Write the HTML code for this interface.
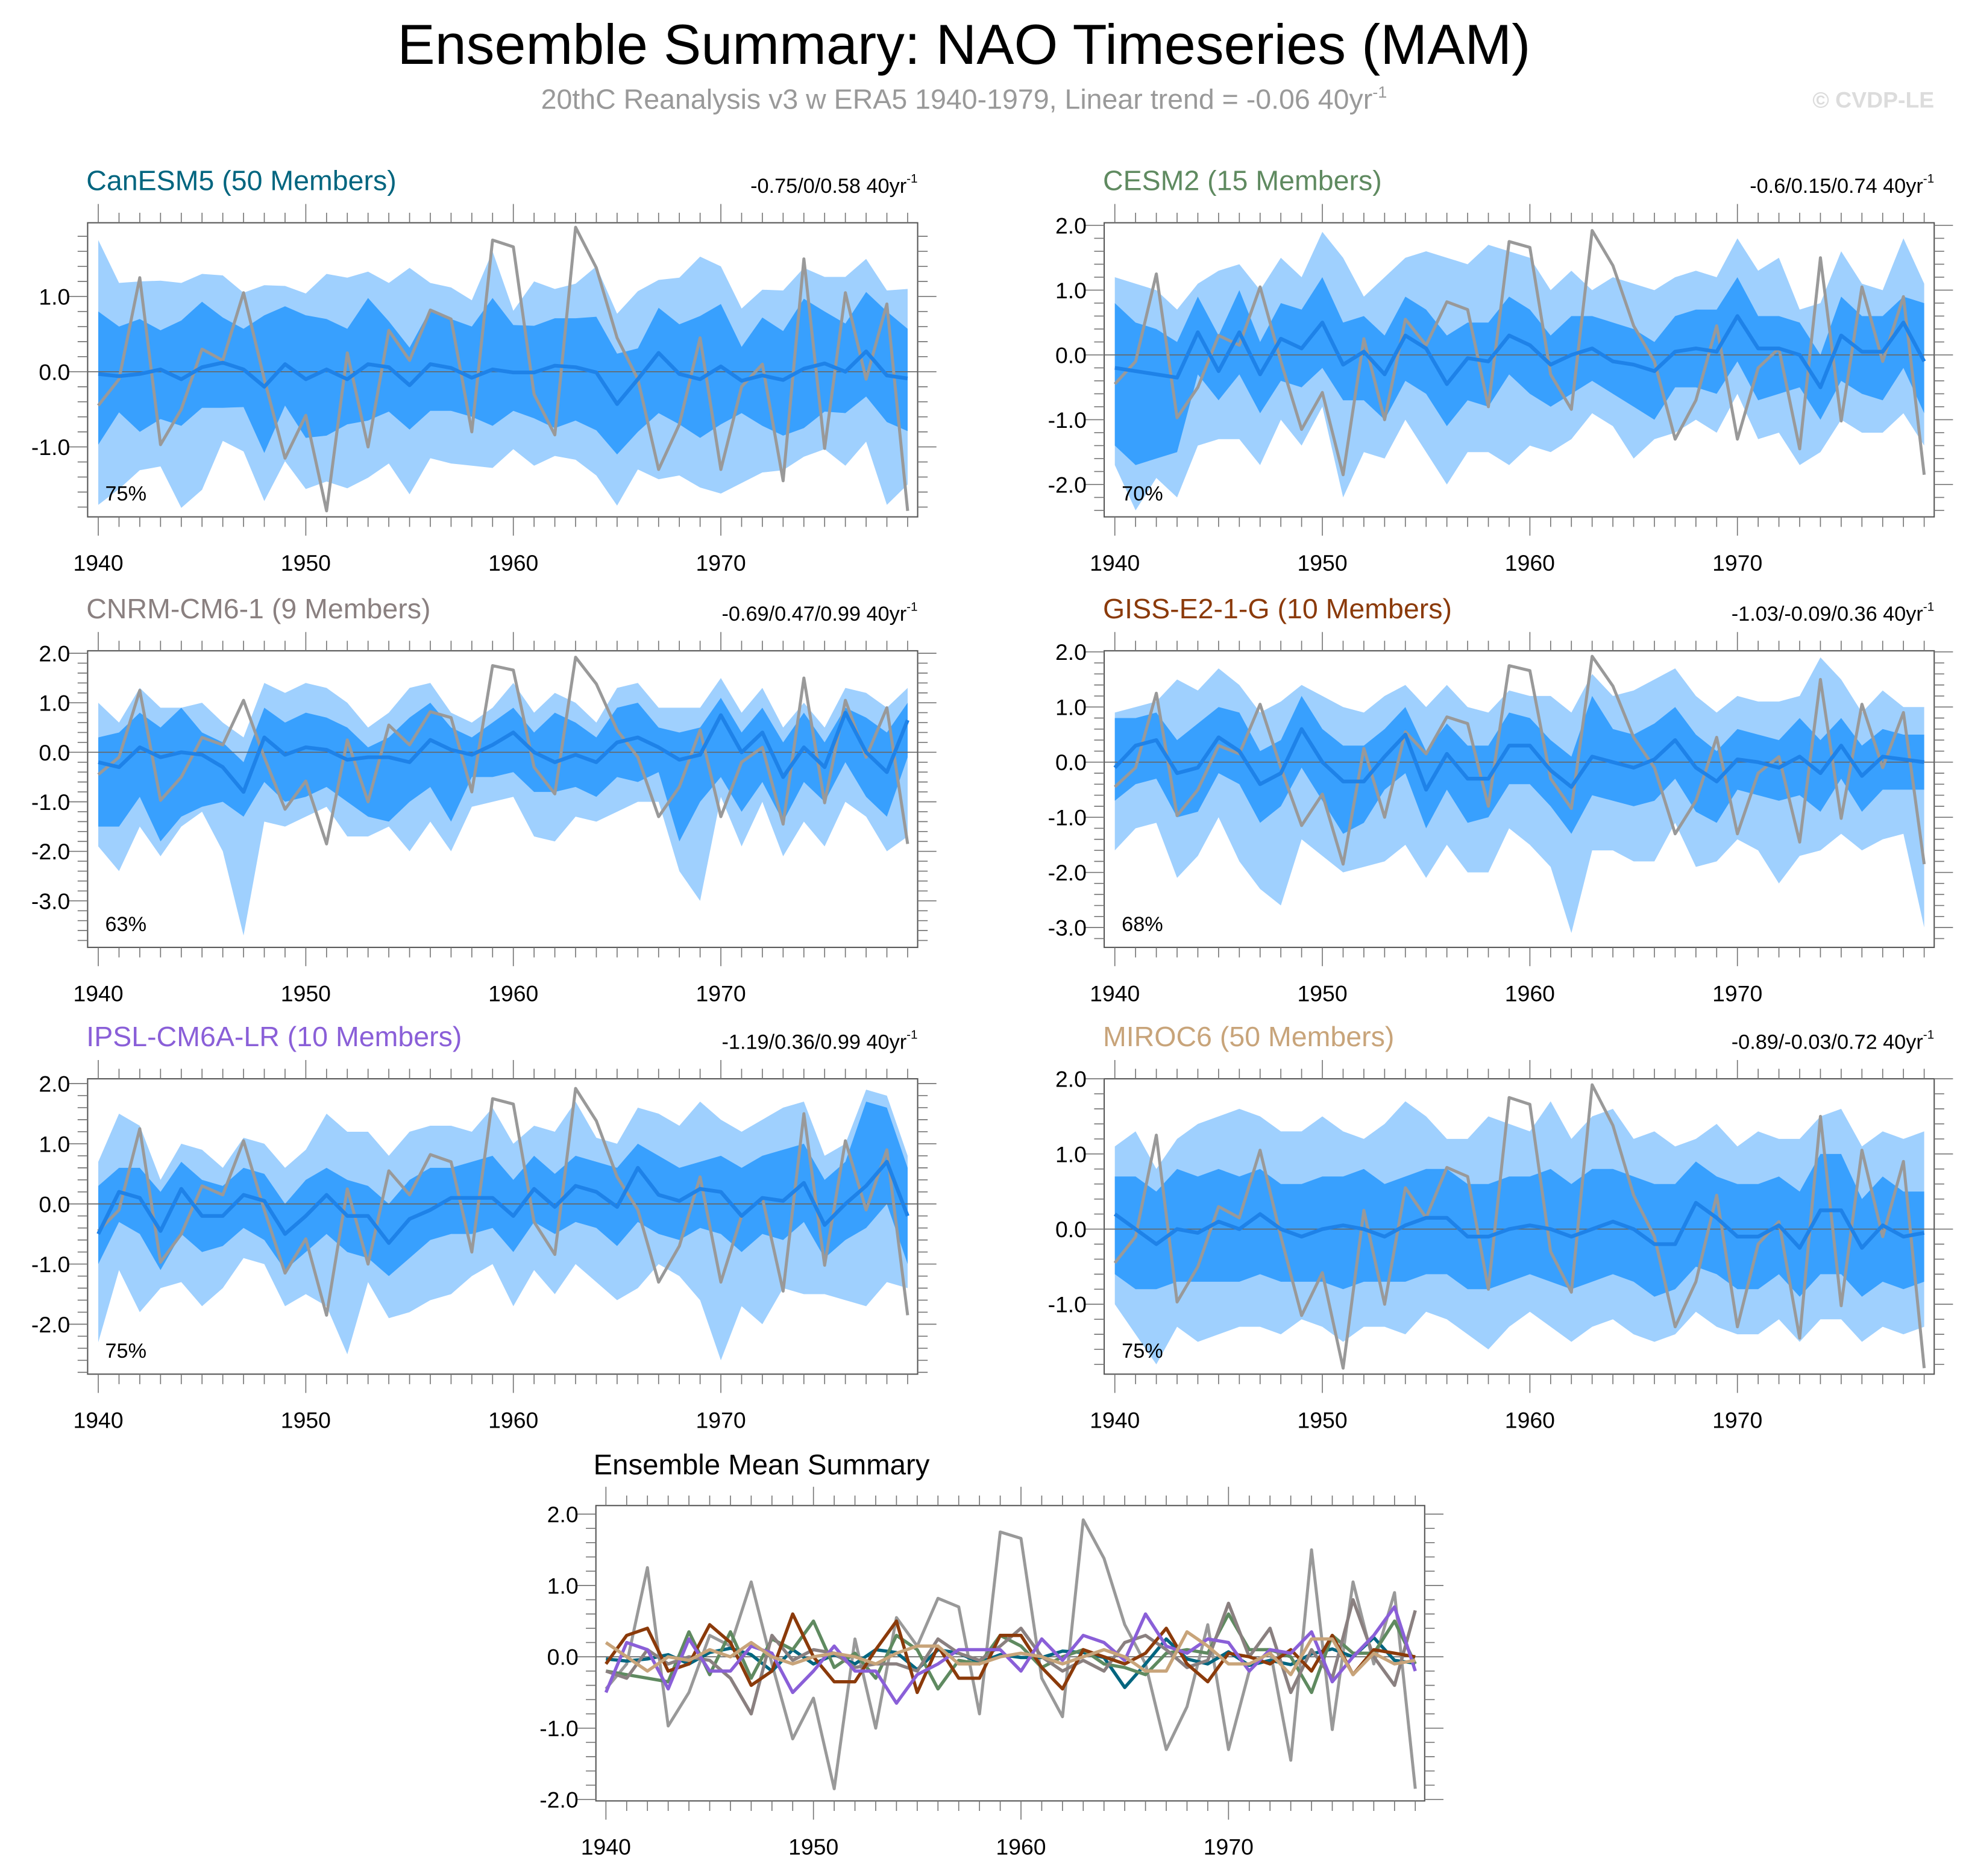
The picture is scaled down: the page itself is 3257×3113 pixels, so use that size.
<!DOCTYPE html>
<html><head><meta charset="utf-8"><title>Ensemble Summary: NAO Timeseries (MAM)</title>
<style>html,body{margin:0;padding:0;background:#fff;width:3257px;height:3113px;overflow:hidden}
svg{display:block;font-family:"Liberation Sans",sans-serif}</style></head>
<body>
<svg id="fig" width="3257" height="3113" viewBox="0 0 1568 1499" preserveAspectRatio="none" xmlns="http://www.w3.org/2000/svg">
<text x="770" y="51" font-size="45" text-anchor="middle" fill="#000">Ensemble Summary: NAO Timeseries (MAM)</text>
<text x="770" y="87" font-size="22.4" text-anchor="middle" fill="#999">20thC Reanalysis v3 w ERA5 1940-1979, Linear trend = -0.06 40yr<tspan dy="-9" font-size="13">-1</tspan></text>
<text x="1545" y="86" font-size="18" font-weight="bold" text-anchor="end" fill="#dcdcdc">© CVDP-LE</text>
<g id="plots"></g>
</svg>
<script>
const years = [1940,1941,1942,1943,1944,1945,1946,1947,1948,1949,1950,1951,1952,1953,1954,1955,1956,1957,1958,1959,1960,1961,1962,1963,1964,1965,1966,1967,1968,1969,1970,1971,1972,1973,1974,1975,1976,1977,1978,1979];
const obs = [-0.45,-0.1,1.25,-0.97,-0.5,0.3,0.15,1.05,-0.1,-1.15,-0.58,-1.85,0.25,-1.0,0.55,0.15,0.82,0.7,-0.8,1.75,1.66,-0.3,-0.84,1.92,1.38,0.45,-0.1,-1.3,-0.7,0.45,-1.3,-0.2,0.1,-1.45,1.5,-1.02,1.05,-0.1,0.9,-1.85];

const canMean=[-0.03,-0.06,-0.03,0.03,-0.1,0.06,0.12,0.03,-0.2,0.1,-0.1,0.03,-0.1,0.1,0.06,-0.18,0.1,0.05,-0.08,0.03,-0.01,-0.01,0.08,0.06,-0.01,-0.43,-0.1,0.25,-0.03,-0.1,0.07,-0.12,-0.05,-0.11,0.04,0.11,0.0,0.27,-0.05,-0.09];
const canDHi=[0.8,0.6,0.7,0.55,0.68,0.93,0.72,0.57,0.75,0.87,0.75,0.7,0.57,0.98,0.67,0.32,0.83,0.7,0.6,0.98,0.62,0.61,0.71,0.71,0.73,0.24,0.31,0.85,0.63,0.74,0.9,0.33,0.72,0.54,0.97,0.8,0.64,1.06,0.8,0.57];
const canDLo=[-0.97,-0.54,-0.8,-0.63,-0.72,-0.48,-0.48,-0.47,-1.08,-0.45,-0.88,-0.85,-0.7,-0.65,-0.53,-0.77,-0.52,-0.52,-0.6,-0.72,-0.52,-0.62,-0.75,-0.65,-0.78,-1.1,-0.8,-0.55,-0.7,-0.88,-0.7,-0.55,-0.72,-0.85,-0.75,-0.53,-0.55,-0.33,-0.67,-0.79];
const canLHi=[1.75,1.18,1.2,1.21,1.18,1.3,1.28,1.05,1.15,1.14,1.04,1.3,1.25,1.33,1.18,1.38,1.18,1.12,0.95,1.6,0.81,1.2,1.1,1.17,1.4,0.77,1.07,1.22,1.25,1.53,1.4,0.84,1.09,1.08,1.38,1.26,1.26,1.5,1.08,1.1];
const canLLo=[-1.77,-1.56,-1.31,-1.26,-1.81,-1.57,-0.92,-1.06,-1.72,-1.19,-1.56,-1.46,-1.55,-1.41,-1.22,-1.63,-1.15,-1.22,-1.25,-1.28,-1.03,-1.25,-1.12,-1.17,-1.38,-1.78,-1.3,-1.43,-1.38,-1.54,-1.62,-1.48,-1.34,-1.31,-1.13,-1.03,-1.25,-0.93,-1.77,-1.5];

const cesMean=[-0.2,-0.25,-0.3,-0.35,0.35,-0.25,0.35,-0.3,0.25,0.1,0.5,-0.15,0.05,-0.3,0.3,0.1,-0.45,-0.05,-0.1,0.3,0.15,-0.15,0.0,0.1,-0.1,-0.15,-0.25,0.05,0.1,0.05,0.6,0.1,0.1,0.0,-0.5,0.3,0.05,0.05,0.5,-0.1];
const cesDHi=[0.8,0.5,0.4,0.2,0.9,0.3,1.0,0.2,0.8,0.7,1.2,0.5,0.6,0.3,0.9,0.7,0.3,0.5,0.5,0.9,0.7,0.3,0.6,0.6,0.5,0.4,0.2,0.6,0.7,0.7,1.2,0.6,0.6,0.5,0.0,0.9,0.6,0.6,0.9,0.8];
const cesDLo=[-1.4,-1.7,-1.6,-1.5,-0.3,-0.7,-0.3,-0.9,-0.4,-0.5,-0.2,-0.7,-0.7,-1.0,-0.4,-0.6,-1.1,-0.7,-0.8,-0.3,-0.6,-0.8,-0.6,-0.4,-0.6,-0.8,-1.0,-0.5,-0.5,-0.6,-0.1,-0.7,-0.6,-0.5,-1.0,-0.4,-0.6,-0.7,-0.2,-0.9];
const cesLHi=[1.2,1.1,1.0,0.7,1.1,1.3,1.4,1.0,1.5,1.2,1.9,1.5,0.9,1.2,1.5,1.6,1.5,1.4,1.7,1.6,1.5,1.0,1.3,1.0,1.2,1.1,1.0,1.2,1.3,1.2,1.8,1.3,1.5,0.7,0.8,1.6,1.1,1.0,1.8,1.1];
const cesLLo=[-1.7,-2.4,-1.9,-2.2,-1.4,-1.3,-1.3,-1.7,-1.0,-1.4,-0.8,-2.2,-1.5,-1.6,-1.0,-1.5,-2.0,-1.5,-1.5,-1.7,-1.4,-1.5,-1.3,-0.9,-1.1,-1.6,-1.3,-1.2,-1.0,-1.2,-0.6,-1.3,-1.2,-1.7,-1.5,-1.0,-1.2,-1.2,-0.9,-1.4];

const cnrMean=[-0.2,-0.3,0.1,-0.1,0.0,-0.05,-0.3,-0.8,0.3,-0.05,0.1,0.05,-0.15,-0.1,-0.1,-0.2,0.25,0.05,-0.05,0.15,0.4,0.0,-0.2,-0.05,-0.2,0.2,0.3,0.1,-0.15,-0.05,0.75,0.0,0.4,-0.5,0.1,-0.3,0.8,0.0,-0.4,0.65];
const cnrDHi=[0.3,0.4,0.8,0.5,0.9,0.4,0.2,-0.2,0.9,0.6,0.8,0.7,0.5,0.1,0.3,0.7,1.0,0.5,0.3,0.6,0.9,0.4,0.8,0.6,0.3,0.9,1.0,0.5,0.4,0.5,1.1,0.4,0.9,0.2,0.8,0.2,0.9,0.7,0.4,1.0];
const cnrDLo=[-1.5,-1.5,-0.9,-1.8,-1.3,-1.1,-1.0,-1.3,-0.6,-1.0,-0.9,-0.7,-1.0,-1.3,-1.4,-1.0,-0.7,-1.4,-0.5,-0.5,-0.4,-0.8,-0.8,-0.7,-0.9,-0.5,-0.6,-0.4,-1.8,-1.0,-0.5,-1.2,-0.6,-1.4,-0.6,-1.0,-0.2,-0.9,-1.3,-0.1];
const cnrLHi=[1.0,0.6,1.3,0.9,0.9,1.0,0.6,0.3,1.4,1.2,1.4,1.3,1.0,0.5,0.8,1.3,1.4,0.8,0.6,0.9,1.4,0.8,1.2,1.0,0.6,1.3,1.4,0.9,0.9,0.9,1.5,0.8,1.3,0.5,1.0,0.5,1.3,1.2,0.9,1.3];
const cnrLLo=[-1.9,-2.4,-1.5,-2.1,-1.5,-1.2,-2.0,-3.7,-1.4,-1.5,-1.3,-1.1,-1.7,-1.7,-1.5,-2.0,-1.4,-2.0,-1.1,-1.0,-0.9,-1.7,-1.8,-1.3,-1.4,-1.2,-1.0,-1.0,-2.4,-3.0,-0.9,-1.9,-1.0,-2.1,-1.4,-1.9,-1.0,-1.3,-2.0,-1.7];

const gisMean=[-0.1,0.3,0.4,-0.2,-0.1,0.45,0.2,-0.4,-0.2,0.6,0.0,-0.35,-0.35,0.1,0.5,-0.5,0.15,-0.3,-0.3,0.3,0.3,-0.15,-0.45,0.1,0.0,-0.1,0.05,0.4,-0.1,-0.35,0.05,0.0,-0.1,0.1,-0.2,0.3,-0.25,0.1,0.05,0.0];
const gisDHi=[0.8,0.8,0.9,0.4,0.7,1.0,0.9,0.2,0.4,1.2,0.6,0.3,0.3,0.6,1.0,0.2,0.7,0.3,0.3,0.9,0.8,0.4,0.1,1.2,0.6,0.5,0.7,1.0,0.5,0.2,0.6,0.5,0.4,0.8,0.4,0.8,0.3,0.6,0.5,0.5];
const gisDLo=[-0.7,-0.4,-0.3,-1.0,-0.9,-0.2,-0.4,-1.1,-0.8,-0.1,-0.7,-1.3,-1.1,-0.5,-0.2,-1.2,-0.5,-1.1,-1.0,-0.4,-0.4,-0.8,-1.3,-0.6,-0.7,-0.8,-0.7,-0.3,-0.9,-1.1,-0.5,-0.6,-0.7,-0.6,-0.9,-0.3,-0.9,-0.5,-0.5,-0.5];
const gisLHi=[0.9,1.0,1.1,1.5,1.3,1.7,1.4,0.9,1.1,1.4,1.2,1.0,0.9,1.2,1.4,1.0,1.4,1.0,0.9,1.3,1.2,1.2,0.9,1.6,1.2,1.3,1.5,1.7,1.2,0.9,1.2,1.1,1.1,1.2,1.9,1.5,0.9,1.3,1.0,1.0];
const gisLLo=[-1.6,-1.2,-1.1,-2.1,-1.7,-1.0,-1.8,-2.3,-2.6,-1.4,-1.7,-2.0,-1.9,-1.8,-1.5,-2.1,-1.5,-2.0,-2.0,-1.2,-1.5,-1.9,-3.1,-1.6,-1.6,-1.8,-1.8,-1.1,-1.9,-1.8,-1.4,-1.6,-2.2,-1.7,-1.6,-1.3,-1.6,-1.4,-1.3,-3.0];

const ipsMean=[-0.5,0.2,0.1,-0.45,0.25,-0.2,-0.2,0.15,0.05,-0.5,-0.2,0.15,-0.2,-0.2,-0.65,-0.25,-0.1,0.1,0.1,0.1,-0.2,0.25,-0.05,0.3,0.2,-0.05,0.6,0.15,0.05,0.25,0.2,-0.2,0.1,0.05,0.35,-0.35,0.0,0.3,0.7,-0.2];
const ipsDHi=[0.3,0.6,0.6,0.2,0.7,0.4,0.3,0.6,0.5,0.0,0.4,0.6,0.4,0.3,0.0,0.4,0.6,0.6,0.7,0.8,0.4,0.8,0.5,0.8,0.7,0.6,1.0,0.8,0.6,0.7,0.8,0.6,0.8,0.9,1.0,0.4,0.7,1.7,1.6,0.6];
const ipsDLo=[-1.0,-0.3,-0.5,-1.1,-0.5,-0.8,-0.7,-0.4,-0.6,-1.1,-0.8,-0.5,-0.8,-0.9,-1.2,-0.9,-0.6,-0.5,-0.5,-0.4,-0.8,-0.3,-0.5,-0.3,-0.4,-0.7,-0.3,-0.5,-0.6,-0.4,-0.5,-0.8,-0.5,-0.6,-0.3,-0.9,-0.6,-0.4,0.0,-1.0];
const ipsLHi=[0.7,1.5,1.3,0.4,1.0,0.9,0.6,1.1,1.0,0.6,0.9,1.5,1.2,1.2,0.8,1.2,1.3,1.3,1.2,1.6,1.0,1.3,1.2,1.7,1.1,1.0,1.6,1.5,1.3,1.7,1.4,1.2,1.4,1.6,1.7,0.8,1.0,1.9,1.8,0.8];
const ipsLLo=[-2.3,-1.1,-1.8,-1.4,-1.3,-1.7,-1.4,-0.9,-1.0,-1.7,-1.5,-1.7,-2.5,-1.3,-1.9,-1.8,-1.6,-1.5,-1.2,-1.0,-1.7,-1.1,-1.5,-1.0,-1.3,-1.6,-1.4,-1.0,-1.2,-1.6,-2.6,-1.7,-2.0,-1.4,-1.5,-1.5,-1.6,-1.7,-1.3,-1.4];

const mirMean=[0.2,0.0,-0.2,0.0,-0.05,0.1,0.0,0.2,0.0,-0.1,0.0,0.05,0.0,-0.1,0.05,0.15,0.15,-0.1,-0.1,0.0,0.05,0.0,-0.1,0.0,0.1,0.0,-0.2,-0.2,0.35,0.15,-0.1,-0.1,0.05,-0.25,0.25,0.25,-0.25,0.05,-0.1,-0.05];
const mirDHi=[0.7,0.7,0.5,0.8,0.7,0.8,0.7,0.8,0.6,0.6,0.7,0.7,0.8,0.6,0.7,0.8,0.8,0.6,0.6,0.7,0.7,0.8,0.6,0.8,0.8,0.7,0.6,0.6,0.9,0.7,0.6,0.6,0.7,0.5,1.0,1.0,0.4,0.7,0.5,0.5];
const mirDLo=[-0.6,-0.8,-0.8,-0.7,-0.7,-0.7,-0.7,-0.6,-0.7,-0.7,-0.7,-0.8,-0.7,-0.7,-0.7,-0.6,-0.6,-0.8,-0.8,-0.7,-0.6,-0.7,-0.8,-0.7,-0.6,-0.7,-0.9,-0.8,-0.5,-0.6,-0.8,-0.8,-0.6,-0.9,-0.6,-0.6,-0.9,-0.7,-0.8,-0.7];
const mirLHi=[1.1,1.3,0.8,1.2,1.4,1.5,1.6,1.5,1.3,1.3,1.5,1.3,1.2,1.4,1.7,1.5,1.2,1.2,1.5,1.4,1.3,1.7,1.2,1.5,1.6,1.2,1.3,1.1,1.2,1.4,1.1,1.3,1.2,1.2,1.5,1.6,1.1,1.3,1.2,1.3];
const mirLLo=[-1.0,-1.4,-1.8,-1.3,-1.5,-1.4,-1.3,-1.3,-1.4,-1.2,-1.3,-1.5,-1.3,-1.3,-1.4,-1.1,-1.2,-1.4,-1.6,-1.3,-1.1,-1.3,-1.5,-1.3,-1.2,-1.4,-1.5,-1.4,-1.1,-1.3,-1.4,-1.4,-1.2,-1.5,-1.2,-1.2,-1.5,-1.3,-1.4,-1.3];

const modelNames=["CanESM5","CESM2","CNRM-CM6-1","GISS-E2-1-G","IPSL-CM6A-LR","MIROC6"];
const memberCounts=[50,15,9,10,10,50];
const trendLabels=["-0.75/0/0.58","-0.6/0.15/0.74","-0.69/0.47/0.99","-1.03/-0.09/0.36","-1.19/0.36/0.99","-0.89/-0.03/0.72"];
const pctLabels=["75%","70%","63%","68%","75%","75%"];
const yTickVals=[[1,0,-1],[2,1,0,-1,-2],[2,1,0,-1,-2,-3],[2,1,0,-1,-2,-3],[2,1,0,-1,-2],[2,1,0,-1]];
const xTickVals=[1940,1950,1960,1970];
const summaryYTicks=[2,1,0,-1,-2];

const means=[canMean,cesMean,cnrMean,gisMean,ipsMean,mirMean];
const dHis=[canDHi,cesDHi,cnrDHi,gisDHi,ipsDHi,mirDHi];
const dLos=[canDLo,cesDLo,cnrDLo,gisDLo,ipsDLo,mirDLo];
const lHis=[canLHi,cesLHi,cnrLHi,gisLHi,ipsLHi,mirLHi];
const lLos=[canLLo,cesLLo,cnrLLo,gisLLo,ipsLLo,mirLLo];
const colors=["#00657f","#5f8a60","#8a8080","#8b3a0a","#8a5fd8","#c8a47a"];
// layout (not data)
const boxes=[[70,178,733,413,1.98,-1.93],[882,178,1545,413,2.04,-2.5],[70,520,733,757,2.05,-3.94],[882,520,1545,757,2.02,-3.36],[70,862,733,1098,2.08,-2.83],[882,862,1545,1098,2.0,-1.93]];

const NS="http://www.w3.org/2000/svg";
const root=document.getElementById('plots');
function mk(tag,attrs,parent){const e=document.createElementNS(NS,tag);for(const k in attrs)e.setAttribute(k,attrs[k]);(parent||root).appendChild(e);return e;}
function fmt(v){return v.toFixed(1);}

function drawAxes(g,x0,y0,x1,y1,xs,ys,ymin,ymax,yt){
  mk('rect',{x:x0,y:y0,width:x1-x0,height:y1-y0,fill:'none',stroke:'#555','stroke-width':1},g);
  for(let yr=1940;yr<=1979;yr++){
    const x=xs(yr),L=(yr%10===0)?15:8;
    mk('line',{x1:x,x2:x,y1:y0,y2:y0-L,stroke:'#777','stroke-width':0.8},g);
    mk('line',{x1:x,x2:x,y1:y1,y2:y1+L,stroke:'#777','stroke-width':0.8},g);
  }
  for(const yr of xTickVals){
    const t=mk('text',{x:xs(yr),y:y1+43,'font-size':18,'text-anchor':'middle',fill:'#000'},g);
    t.textContent=yr;
    
    
  }
  for(let k=Math.ceil(ymin*5);k<=Math.floor(ymax*5);k++){
    const v=k/5,y=ys(v),maj=(k%5===0),L=maj?15:8;
    mk('line',{x1:x0,x2:x0-L,y1:y,y2:y,stroke:'#777','stroke-width':0.8},g);
    mk('line',{x1:x1,x2:x1+L,y1:y,y2:y,stroke:'#777','stroke-width':0.8},g);
  }
  for(const v of yt){
    const t=mk('text',{x:x0-14,y:ys(v)+6.5,'font-size':18,'text-anchor':'end',fill:'#000'},g);
    t.textContent=fmt(v);
    
    
  }
}
function pathOf(arr,xs,ys){return arr.map((v,i)=>(i?'L':'M')+xs(years[i]).toFixed(2)+','+ys(v).toFixed(2)).join('');}
function bandOf(hi,lo,xs,ys){
  let d=hi.map((v,i)=>(i?'L':'M')+xs(years[i]).toFixed(2)+','+ys(v).toFixed(2)).join('');
  for(let i=lo.length-1;i>=0;i--)d+='L'+xs(years[i]).toFixed(2)+','+ys(lo[i]).toFixed(2);
  return d+'Z';
}

for(let p=0;p<6;p++){
  const [x0,y0,x1,y1,ymax,ymin]=boxes[p];
  const g=mk('g',{});
  
  
  const xs=yr=>x0+8.5+(yr-1940)*(x1-x0-16.5)/39;
  const ys=v=>y0+(ymax-v)/(ymax-ymin)*(y1-y0);
  const cp=mk('clipPath',{id:'cp'+p},g);mk('rect',{x:x0,y:y0,width:x1-x0,height:y1-y0},cp);
  const dg=mk('g',{'clip-path':'url(#cp'+p+')'},g);
  const b1=mk('path',{d:bandOf(lHis[p],lLos[p],xs,ys),fill:'#9fd0fe',stroke:'none'},dg);
  
  
  const b2=mk('path',{d:bandOf(dHis[p],dLos[p],xs,ys),fill:'#38a0fe',stroke:'none'},dg);
  
  
  mk('line',{x1:x0,x2:x1,y1:ys(0),y2:ys(0),stroke:'#666','stroke-width':0.8},dg);
  const ob=mk('path',{d:pathOf(obs,xs,ys),fill:'none',stroke:'#999','stroke-width':2.4,'stroke-linejoin':'round'},dg);
  
  
  const ml=mk('path',{d:pathOf(means[p],xs,ys),fill:'none',stroke:'#1e82e8','stroke-width':3,'stroke-linejoin':'round'},dg);
  
  
  drawAxes(g,x0,y0,x1,y1,xs,ys,ymin,ymax,yTickVals[p]);
  const tt=mk('text',{x:x0-1,y:y0-26,'font-size':22.4,fill:colors[p]},g);
  tt.textContent=modelNames[p]+' ('+memberCounts[p]+' Members)';
  
  
  const tr=mk('text',{x:x1,y:y0-24,'font-size':16.5,'text-anchor':'end',fill:'#000'},g);
  tr.textContent=trendLabels[p]+' 40yr';
  const sp=mk('tspan',{dy:-8,'font-size':10},tr);sp.textContent='-1';
  
  
  const pc=mk('text',{x:x0+14,y:y1-13,'font-size':16.5,fill:'#000'},g);
  pc.textContent=pctLabels[p];
  
  
}

// summary panel
(function(){
  const x0=476,y0=1203,x1=1138,y1=1439,ymax=2.12,ymin=-2.02;
  const g=mk('g',{});
  
  
  const xs=yr=>484+(yr-1940)*(1130.5-484)/39;
  const ys=v=>y0+(ymax-v)/(ymax-ymin)*(y1-y0);
  const cp=mk('clipPath',{id:'cps'},g);mk('rect',{x:x0,y:y0,width:x1-x0,height:y1-y0},cp);
  const dg=mk('g',{'clip-path':'url(#cps)'},g);
  mk('line',{x1:x0,x2:x1,y1:ys(0),y2:ys(0),stroke:'#666','stroke-width':0.8},dg);
  const ob=mk('path',{d:pathOf(obs,xs,ys),fill:'none',stroke:'#999','stroke-width':2.4,'stroke-linejoin':'round'},dg);
  
  
  for(let p=0;p<6;p++){
    const l=mk('path',{d:pathOf(means[p],xs,ys),fill:'none',stroke:colors[p],'stroke-width':2.6,'stroke-linejoin':'round'},dg);
    
    
  }
  drawAxes(g,x0,y0,x1,y1,xs,ys,ymin,ymax,summaryYTicks);
  const t=mk('text',{x:474,y:1178,'font-size':22.8,fill:'#000'},g);
  t.textContent='Ensemble Mean Summary';
  
  
})();
</script>
</body></html>
